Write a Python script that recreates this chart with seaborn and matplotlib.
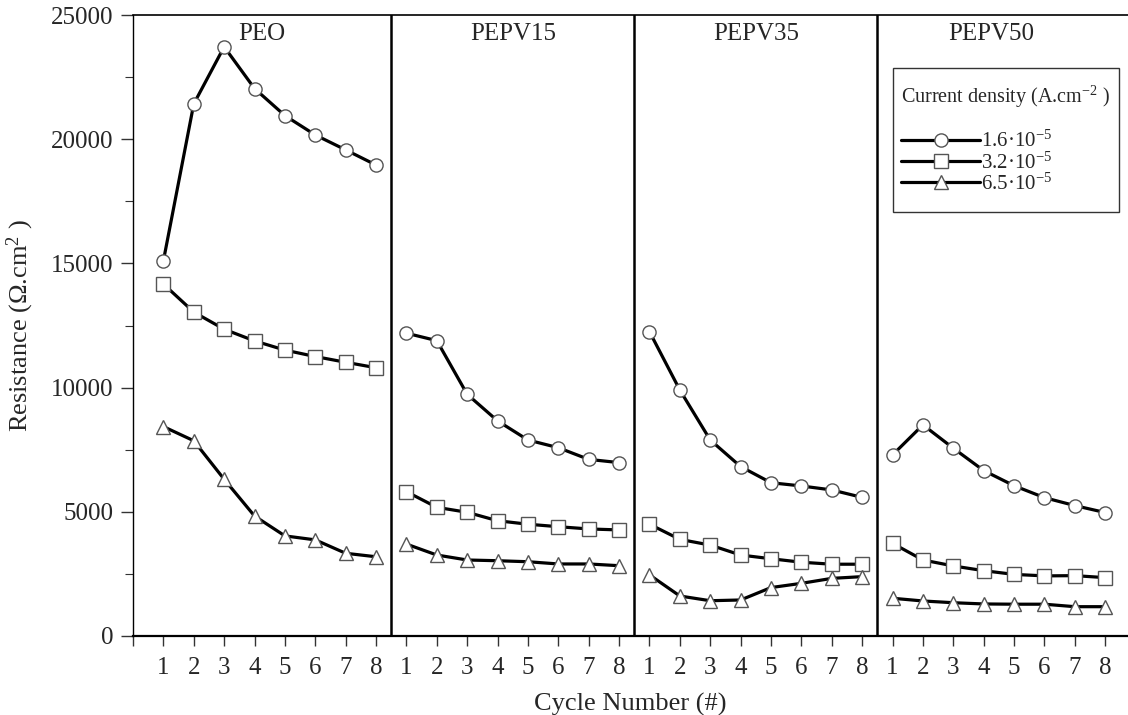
import numpy as np
import pandas as pd
import matplotlib
matplotlib.use("Agg")
import matplotlib.pyplot as plt
import seaborn as sns
from matplotlib.lines import Line2D
from matplotlib.patches import Rectangle

# ---------------- data ----------------
panels = ["PEO", "PEPV15", "PEPV35", "PEPV50"]
cycles = [1, 2, 3, 4, 5, 6, 7, 8]
densities = ["1.6e-5", "3.2e-5", "6.5e-5"]
density_labels = ["1.6·10$^{-5}$", "3.2·10$^{-5}$", "6.5·10$^{-5}$"]

peo_16 = [15100, 21420, 23720, 22040, 20950, 20170, 19570, 18960]
peo_32 = [14170, 13040, 12350, 11880, 11510, 11250, 11020, 10800]
peo_65 = [8430, 7860, 6310, 4830, 4030, 3870, 3330, 3190]

pepv15_16 = [12190, 11890, 9730, 8660, 7890, 7580, 7110, 6980]
pepv15_32 = [5810, 5180, 4980, 4640, 4500, 4400, 4310, 4270]
pepv15_65 = [3700, 3260, 3060, 3030, 2990, 2900, 2900, 2830]

pepv35_16 = [12250, 9900, 7890, 6820, 6170, 6040, 5880, 5580]
pepv35_32 = [4500, 3890, 3660, 3260, 3110, 2970, 2890, 2890]
pepv35_65 = [2460, 1610, 1420, 1450, 1950, 2120, 2320, 2390]

pepv50_16 = [7290, 8500, 7560, 6660, 6050, 5570, 5250, 4970]
pepv50_32 = [3730, 3060, 2820, 2630, 2480, 2420, 2430, 2350]
pepv50_65 = [1520, 1410, 1340, 1290, 1280, 1280, 1180, 1180]

series = {
    "PEO": [peo_16, peo_32, peo_65],
    "PEPV15": [pepv15_16, pepv15_32, pepv15_65],
    "PEPV35": [pepv35_16, pepv35_32, pepv35_65],
    "PEPV50": [pepv50_16, pepv50_32, pepv50_65],
}

rows = []
for i, p in enumerate(panels):
    for d, vals in zip(densities, series[p]):
        for c, v in zip(cycles, vals):
            rows.append({"panel": p, "density": d, "pos": i * len(cycles) + c,
                         "cycle": c, "R": v})
df = pd.DataFrame(rows)

# ---------------- style ----------------
sns.set_theme(style="ticks")
plt.rcParams["font.family"] = ["Liberation Serif", "DejaVu Serif"]
plt.rcParams["mathtext.fontset"] = "custom"
plt.rcParams["mathtext.rm"] = "Liberation Serif"
plt.rcParams["mathtext.it"] = "Liberation Serif:italic"
plt.rcParams["mathtext.bf"] = "Liberation Serif:bold"

W, H = 1128, 715
fig = plt.figure(figsize=(W / 100, H / 100), dpi=100)
ax = fig.add_axes([133 / W, (H - 636) / H, (W - 133) / W, 621 / H])

markers = ["o", "s", "^"]
sns.lineplot(data=df, x="pos", y="R", style="density", style_order=densities,
             units="panel", estimator=None, markers=markers, dashes=False,
             color="black", lw=2.3, ms=9.5, mfc="white", mec="#555555",
             mew=1.0, legend=False, sort=False, ax=ax)

n = len(cycles)
xmax = 32.75
ax.set_xlim(0, xmax)
ax.set_ylim(0, 25000)

# separators
for k in range(1, len(panels)):
    ax.axvline(k * n + 0.5, color="black", lw=1.8, zorder=1)

# panel titles
bounds = [0] + [k * n + 0.5 for k in range(1, len(panels))] + [32.0]
for k, p in enumerate(panels):
    cx = (bounds[k] + bounds[k + 1]) / 2
    ax.text(cx, 24250, p, ha="center", va="center", fontsize=18)

# ticks
ax.set_xticks(range(0, len(panels) * n + 1))
ax.set_xticklabels([""] + [str(c) for c in cycles] * len(panels))
ax.set_yticks(np.arange(0, 25001, 5000))
ax.set_yticklabels([str(v) for v in range(0, 25001, 5000)])
ax.set_yticks(np.arange(2500, 25000, 5000), minor=True)
ax.tick_params(axis="x", which="major", direction="out", length=7, width=1,
               pad=8, labelsize=18, color="#333333")
ax.tick_params(axis="y", which="major", direction="out", length=9, width=1,
               pad=5, labelsize=18, color="#333333")
ax.tick_params(axis="y", which="minor", direction="out", length=6, width=0.8,
               color="#333333")

ax.spines["right"].set_visible(False)
ax.spines["left"].set_linewidth(1.0)
ax.spines["top"].set_linewidth(1.2)
ax.spines["bottom"].set_linewidth(1.6)
for s in ax.spines.values():
    s.set_color("black")

ax.set_xlabel("Cycle Number (#)", fontsize=19, labelpad=10)
ax.set_ylabel("Resistance (Ω.cm$^2$ )", fontsize=19, labelpad=11)

# legend frame (drawn separately to match the reference padding)
ax.add_patch(Rectangle((0.764, 0.683), 0.227, 0.232, transform=ax.transAxes,
                       facecolor="white", edgecolor="#333333", lw=1.0,
                       zorder=4))

handles = [Line2D([], [], color="black", lw=2.3, marker=m, ms=9.5, mfc="white",
                  mec="#555555", mew=1.0) for m in markers]
leg = ax.legend(handles, density_labels, title="Current density (A.cm$^{-2}$ )",
                loc="upper left", bbox_to_anchor=(0.772, 0.889),
                borderaxespad=0, fontsize=15, title_fontsize=14.5,
                handlelength=3.8, handletextpad=0.05, labelspacing=0.0,
                frameon=False, borderpad=0.0)
leg.set_zorder(5)
leg._legend_box.sep = 15
leg._legend_box.align = "left"

fig.savefig("out.png", dpi=100)
